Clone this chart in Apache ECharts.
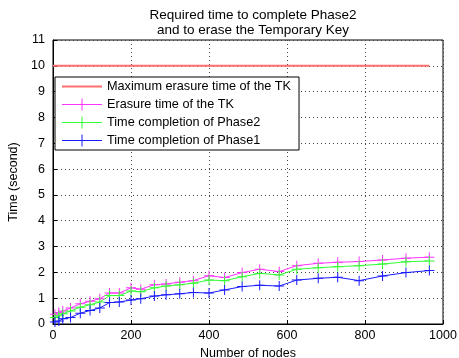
<!DOCTYPE html>
<html><head><meta charset="utf-8">
<script src="https://cdn.jsdelivr.net/npm/echarts@6/dist/echarts.min.js"></script>
<style>html,body{margin:0;padding:0;background:#fff}#c{width:459px;height:358px}</style>
</head><body><div id="c"></div>
<script>
const nodes = [5,15,25,45,70,95,120,145,170,200,225,260,290,325,360,400,440,485,530,580,625,680,730,785,845,905,965];
const erasureTK = [0.38,0.45,0.5,0.62,0.78,0.88,0.98,1.2,1.2,1.4,1.35,1.52,1.55,1.62,1.68,1.87,1.8,1.99,2.12,2.03,2.26,2.35,2.39,2.42,2.48,2.55,2.59];
const phase2 = [0.25,0.32,0.4,0.5,0.65,0.75,0.85,1.1,1.1,1.28,1.25,1.4,1.47,1.52,1.58,1.7,1.68,1.83,1.96,1.9,2.12,2.18,2.22,2.26,2.32,2.41,2.44];
const phase1 = [0.08,0.12,0.2,0.25,0.42,0.52,0.62,0.83,0.85,0.93,0.98,1.08,1.13,1.17,1.22,1.2,1.32,1.45,1.5,1.47,1.7,1.77,1.81,1.68,1.86,1.99,2.07];
const maxErasureX = [0, 965];
const maxErasure = [10, 10];
const names = ['Maximum erasure time of the TK','Erasure time of the TK','Time completion of Phase2','Time completion of Phase1'];
const titleText = 'Required time to complete Phase2\nand to erase the Temporary Key';

const plus = 'path://M0,4.5H10V5.5H0Z M4.5,0H5.5V10H4.5Z';
const legPlus = 'path://M0,5.5H40V6.5H0Z M19.5,0H20.5V12H19.5Z';
const legLine = 'path://M0,5H40V7H0Z';
const font = 'Liberation Sans, Arial, sans-serif';
const zip = (xs, ys) => xs.map((x, i) => [x, ys[i]]);
const chart = echarts.init(document.getElementById('c'));
function mk(name, color, data, sym, w) {
  return {name, type:'line', data, symbol: sym ? plus : 'none', symbolSize: 10,
    showSymbol: !!sym, itemStyle:{color}, lineStyle:{color, width:w||1}, animation:false};
}
chart.setOption({
  animation:false,
  textStyle:{fontFamily:font},
  title:{text:titleText, left:248, textAlign:'center', top:3,
    textStyle:{fontSize:13.5, fontWeight:'normal', color:'#000', lineHeight:15, fontFamily:font}},
  grid:{left:53, right:16, top:40, bottom:34, show:true, borderColor:'#000', borderWidth:1,
    containLabel:false, outerBoundsMode:'none'},
  legend:{orient:'vertical', left:55, top:77, padding:[3,8,3,7], itemGap:5,
    itemWidth:40, itemHeight:12, backgroundColor:'#fff', borderColor:'#000', borderWidth:1,
    textStyle:{fontSize:12.7, color:'#000', fontFamily:font},
    data:[{name:names[0], icon:legLine},{name:names[1], icon:legPlus},{name:names[2], icon:legPlus},{name:names[3], icon:legPlus}]},
  xAxis:{type:'value', min:0, max:1000, interval:200, name:'Number of nodes', nameLocation:'middle', nameGap:19,
    nameTextStyle:{fontSize:12.5, color:'#000', fontFamily:font},
    axisLine:{lineStyle:{color:'#000'}}, axisTick:{inside:true, length:4, lineStyle:{color:'#000'}},
    axisLabel:{fontSize:12.5, color:'#000', margin:5, fontFamily:font, formatter:v => String(v)},
    splitLine:{show:true, lineStyle:{color:'#444', type:[1,3], width:1}}},
  yAxis:{type:'value', min:0, max:11, interval:1, name:'Time (second)', nameLocation:'middle', nameGap:28,
    nameTextStyle:{fontSize:12.5, color:'#000', fontFamily:font},
    axisLine:{show:true, lineStyle:{color:'#000'}}, axisTick:{show:true, inside:true, length:4, lineStyle:{color:'#000'}},
    axisLabel:{fontSize:12.5, color:'#000', margin:8, fontFamily:font},
    splitLine:{show:true, lineStyle:{color:'#444', type:[1,3], width:1}}},
  series:[
    mk(names[0], '#ff6f6f', zip(maxErasureX, maxErasure), false, 2),
    mk(names[1], '#ff33ff', zip(nodes, erasureTK), true),
    mk(names[2], '#33ff33', zip(nodes, phase2), true),
    mk(names[3], '#1a1aff', zip(nodes, phase1), true)
  ]
});
</script></body></html>
